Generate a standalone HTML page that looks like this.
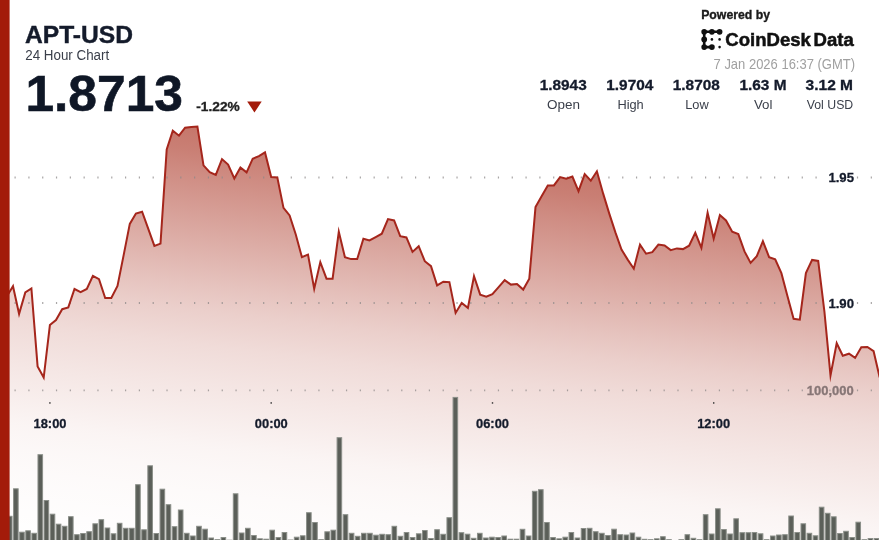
<!DOCTYPE html>
<html lang="en">
<head>
<meta charset="utf-8">
<title>APT-USD 24 Hour Chart</title>
<style>
html,body{margin:0;padding:0;background:#fff;}
body{width:879px;height:540px;overflow:hidden;position:relative;font-family:"Liberation Sans",sans-serif;}
svg{position:absolute;left:0;top:0;display:block;}
text{font-family:"Liberation Sans",sans-serif;}
.b{font-weight:bold;}
</style>
</head>
<body>
<svg width="879" height="540" viewBox="0 0 879 540">
<defs>
<linearGradient id="ag" gradientUnits="userSpaceOnUse" x1="575" y1="125" x2="517.63" y2="603.12">
<stop offset="0.0000" stop-color="#9f1a07" stop-opacity="0.66"/>
<stop offset="0.0309" stop-color="#9f1a07" stop-opacity="0.635"/>
<stop offset="0.0928" stop-color="#9f1a07" stop-opacity="0.6"/>
<stop offset="0.1443" stop-color="#9f1a07" stop-opacity="0.56"/>
<stop offset="0.1959" stop-color="#9f1a07" stop-opacity="0.5"/>
<stop offset="0.3093" stop-color="#9f1a07" stop-opacity="0.38"/>
<stop offset="0.4227" stop-color="#9f1a07" stop-opacity="0.26"/>
<stop offset="0.4742" stop-color="#9f1a07" stop-opacity="0.21"/>
<stop offset="0.5464" stop-color="#9f1a07" stop-opacity="0.155"/>
<stop offset="0.6289" stop-color="#9f1a07" stop-opacity="0.11"/>
<stop offset="0.6804" stop-color="#9f1a07" stop-opacity="0.084"/>
<stop offset="0.7526" stop-color="#9f1a07" stop-opacity="0.046"/>
<stop offset="0.8041" stop-color="#9f1a07" stop-opacity="0.031"/>
<stop offset="0.8557" stop-color="#9f1a07" stop-opacity="0.02"/>
<stop offset="1.0000" stop-color="#9f1a07" stop-opacity="0.0"/>
</linearGradient>
</defs>
<rect width="879" height="540" fill="#fff"/>
<path d="M0.7,292.4 L6.8,296.4 L13.0,286.2 L19.1,313.9 L25.3,292.4 L31.4,288.4 L37.6,366.4 L43.7,377.5 L49.9,325.1 L56.0,320.0 L62.2,309.2 L68.3,307.4 L74.5,289.0 L80.6,292.1 L86.8,289.0 L92.9,275.9 L99.0,279.1 L105.2,298.0 L111.3,297.9 L117.5,285.9 L123.6,255.4 L129.8,223.9 L135.9,213.6 L142.1,211.7 L148.2,228.7 L154.4,245.9 L160.5,243.6 L166.7,149.4 L172.8,130.7 L179.0,135.7 L185.1,127.7 L191.3,126.9 L197.4,126.5 L203.5,165.4 L209.7,172.1 L215.8,174.9 L222.0,159.1 L228.1,164.6 L234.3,178.4 L240.4,167.4 L246.6,172.4 L252.7,158.7 L258.9,156.2 L265.0,152.4 L271.2,177.1 L277.3,177.4 L283.5,207.9 L289.6,215.4 L295.7,234.2 L301.9,257.1 L308.0,254.6 L314.2,288.7 L320.3,262.1 L326.5,278.7 L332.6,278.7 L338.8,231.7 L344.9,257.1 L351.1,259.1 L357.2,259.1 L363.4,238.7 L369.5,240.4 L375.7,237.1 L381.8,233.7 L388.0,219.1 L394.1,220.4 L400.2,236.2 L406.4,237.4 L412.5,251.9 L418.7,246.2 L424.8,261.2 L431.0,266.2 L437.1,285.4 L443.3,281.7 L449.4,282.1 L455.6,312.9 L461.7,302.9 L467.9,307.9 L474.0,276.2 L480.2,294.6 L486.3,296.7 L492.4,294.1 L498.6,287.1 L504.7,280.1 L510.9,284.6 L517.0,284.1 L523.2,289.6 L529.3,278.7 L535.5,207.1 L541.6,196.2 L547.8,185.4 L553.9,185.4 L560.1,177.1 L566.2,178.7 L572.4,176.6 L578.5,191.2 L584.7,174.1 L590.8,180.7 L596.9,171.3 L603.1,193.4 L609.2,213.4 L615.4,232.4 L621.5,249.6 L627.7,259.6 L633.8,268.7 L640.0,244.6 L646.1,253.7 L652.3,252.1 L658.4,244.6 L664.6,245.4 L670.7,250.1 L676.9,248.4 L683.0,249.1 L689.1,245.7 L695.3,232.8 L701.4,247.9 L707.6,212.8 L713.7,238.6 L719.9,215.1 L726.0,220.4 L732.2,231.7 L738.3,234.1 L744.5,251.4 L750.6,262.9 L756.8,256.2 L762.9,241.2 L769.1,257.1 L775.2,259.4 L781.4,273.2 L787.5,296.2 L793.6,318.8 L799.8,319.7 L805.9,273.0 L812.1,259.9 L818.2,260.9 L824.4,311.4 L830.5,375.4 L836.7,343.2 L842.8,355.7 L849.0,353.7 L855.1,357.9 L861.3,347.3 L867.4,346.9 L873.6,351.2 L879.7,377.4 L879.7,540 L0.7,540 Z" fill="url(#ag)"/>
<g stroke="#8c8888" stroke-opacity="0.75" stroke-width="1.8" stroke-dasharray="1.2 12.61" fill="none">
<line x1="0.7" y1="177.5" x2="879" y2="177.5"/>
<line x1="0.7" y1="303" x2="879" y2="303"/>
<line x1="0.7" y1="390.3" x2="879" y2="390.3"/>
</g>
<path d="M0.7,292.4 L6.8,296.4 L13.0,286.2 L19.1,313.9 L25.3,292.4 L31.4,288.4 L37.6,366.4 L43.7,377.5 L49.9,325.1 L56.0,320.0 L62.2,309.2 L68.3,307.4 L74.5,289.0 L80.6,292.1 L86.8,289.0 L92.9,275.9 L99.0,279.1 L105.2,298.0 L111.3,297.9 L117.5,285.9 L123.6,255.4 L129.8,223.9 L135.9,213.6 L142.1,211.7 L148.2,228.7 L154.4,245.9 L160.5,243.6 L166.7,149.4 L172.8,130.7 L179.0,135.7 L185.1,127.7 L191.3,126.9 L197.4,126.5 L203.5,165.4 L209.7,172.1 L215.8,174.9 L222.0,159.1 L228.1,164.6 L234.3,178.4 L240.4,167.4 L246.6,172.4 L252.7,158.7 L258.9,156.2 L265.0,152.4 L271.2,177.1 L277.3,177.4 L283.5,207.9 L289.6,215.4 L295.7,234.2 L301.9,257.1 L308.0,254.6 L314.2,288.7 L320.3,262.1 L326.5,278.7 L332.6,278.7 L338.8,231.7 L344.9,257.1 L351.1,259.1 L357.2,259.1 L363.4,238.7 L369.5,240.4 L375.7,237.1 L381.8,233.7 L388.0,219.1 L394.1,220.4 L400.2,236.2 L406.4,237.4 L412.5,251.9 L418.7,246.2 L424.8,261.2 L431.0,266.2 L437.1,285.4 L443.3,281.7 L449.4,282.1 L455.6,312.9 L461.7,302.9 L467.9,307.9 L474.0,276.2 L480.2,294.6 L486.3,296.7 L492.4,294.1 L498.6,287.1 L504.7,280.1 L510.9,284.6 L517.0,284.1 L523.2,289.6 L529.3,278.7 L535.5,207.1 L541.6,196.2 L547.8,185.4 L553.9,185.4 L560.1,177.1 L566.2,178.7 L572.4,176.6 L578.5,191.2 L584.7,174.1 L590.8,180.7 L596.9,171.3 L603.1,193.4 L609.2,213.4 L615.4,232.4 L621.5,249.6 L627.7,259.6 L633.8,268.7 L640.0,244.6 L646.1,253.7 L652.3,252.1 L658.4,244.6 L664.6,245.4 L670.7,250.1 L676.9,248.4 L683.0,249.1 L689.1,245.7 L695.3,232.8 L701.4,247.9 L707.6,212.8 L713.7,238.6 L719.9,215.1 L726.0,220.4 L732.2,231.7 L738.3,234.1 L744.5,251.4 L750.6,262.9 L756.8,256.2 L762.9,241.2 L769.1,257.1 L775.2,259.4 L781.4,273.2 L787.5,296.2 L793.6,318.8 L799.8,319.7 L805.9,273.0 L812.1,259.9 L818.2,260.9 L824.4,311.4 L830.5,375.4 L836.7,343.2 L842.8,355.7 L849.0,353.7 L855.1,357.9 L861.3,347.3 L867.4,346.9 L873.6,351.2 L879.7,377.4" fill="none" stroke="#a5261c" stroke-width="2" stroke-linejoin="miter" stroke-miterlimit="10"/>
<g fill="#5b5f59" stroke="#8b8f89" stroke-width="1">
<rect x="1.35" y="530.5" width="4.60" height="11.0"/>
<rect x="7.45" y="516.3" width="4.60" height="25.2"/>
<rect x="13.56" y="488.8" width="4.60" height="52.7"/>
<rect x="19.66" y="532.2" width="4.60" height="9.3"/>
<rect x="25.77" y="530.8" width="4.60" height="10.7"/>
<rect x="31.87" y="533.3" width="4.60" height="8.2"/>
<rect x="37.98" y="454.7" width="4.60" height="86.8"/>
<rect x="44.08" y="500.5" width="4.60" height="41.0"/>
<rect x="50.18" y="514.2" width="4.60" height="27.3"/>
<rect x="56.29" y="524.2" width="4.60" height="17.3"/>
<rect x="62.39" y="526.3" width="4.60" height="15.2"/>
<rect x="68.50" y="516.7" width="4.60" height="24.8"/>
<rect x="74.60" y="534.7" width="4.60" height="6.8"/>
<rect x="80.70" y="533.5" width="4.60" height="8.0"/>
<rect x="86.81" y="531.7" width="4.60" height="9.8"/>
<rect x="92.91" y="523.8" width="4.60" height="17.7"/>
<rect x="99.02" y="519.7" width="4.60" height="21.8"/>
<rect x="105.12" y="528.0" width="4.60" height="13.5"/>
<rect x="111.22" y="533.8" width="4.60" height="7.7"/>
<rect x="117.33" y="523.3" width="4.60" height="18.2"/>
<rect x="123.43" y="528.3" width="4.60" height="13.2"/>
<rect x="129.54" y="528.3" width="4.60" height="13.2"/>
<rect x="135.64" y="484.7" width="4.60" height="56.8"/>
<rect x="141.75" y="529.8" width="4.60" height="11.7"/>
<rect x="147.85" y="465.8" width="4.60" height="75.7"/>
<rect x="153.95" y="533.5" width="4.60" height="8.0"/>
<rect x="160.06" y="489.2" width="4.60" height="52.3"/>
<rect x="166.16" y="504.7" width="4.60" height="36.8"/>
<rect x="172.27" y="526.7" width="4.60" height="14.8"/>
<rect x="178.37" y="510.0" width="4.60" height="31.5"/>
<rect x="184.47" y="533.3" width="4.60" height="8.2"/>
<rect x="190.58" y="536.0" width="4.60" height="5.5"/>
<rect x="196.68" y="526.3" width="4.60" height="15.2"/>
<rect x="202.79" y="529.2" width="4.60" height="12.3"/>
<rect x="208.89" y="538.0" width="4.60" height="3.5"/>
<rect x="215.00" y="539.7" width="4.60" height="1.8"/>
<rect x="221.10" y="537.5" width="4.60" height="4.0"/>
<rect x="227.20" y="540.2" width="4.60" height="1.3"/>
<rect x="233.31" y="493.8" width="4.60" height="47.7"/>
<rect x="239.41" y="533.0" width="4.60" height="8.5"/>
<rect x="245.52" y="528.3" width="4.60" height="13.2"/>
<rect x="251.62" y="535.5" width="4.60" height="6.0"/>
<rect x="257.73" y="538.8" width="4.60" height="2.7"/>
<rect x="263.83" y="539.2" width="4.60" height="2.3"/>
<rect x="269.93" y="530.2" width="4.60" height="11.3"/>
<rect x="276.04" y="537.5" width="4.60" height="4.0"/>
<rect x="282.14" y="532.5" width="4.60" height="9.0"/>
<rect x="288.25" y="540.0" width="4.60" height="1.5"/>
<rect x="294.35" y="537.2" width="4.60" height="4.3"/>
<rect x="300.45" y="535.8" width="4.60" height="5.7"/>
<rect x="306.56" y="512.7" width="4.60" height="28.8"/>
<rect x="312.66" y="522.5" width="4.60" height="19.0"/>
<rect x="318.77" y="539.7" width="4.60" height="1.8"/>
<rect x="324.87" y="531.8" width="4.60" height="9.7"/>
<rect x="330.98" y="530.2" width="4.60" height="11.3"/>
<rect x="337.08" y="437.7" width="4.60" height="103.8"/>
<rect x="343.18" y="514.7" width="4.60" height="26.8"/>
<rect x="349.29" y="533.3" width="4.60" height="8.2"/>
<rect x="355.39" y="536.3" width="4.60" height="5.2"/>
<rect x="361.50" y="533.3" width="4.60" height="8.2"/>
<rect x="367.60" y="533.3" width="4.60" height="8.2"/>
<rect x="373.70" y="535.2" width="4.60" height="6.3"/>
<rect x="379.81" y="534.3" width="4.60" height="7.2"/>
<rect x="385.91" y="534.7" width="4.60" height="6.8"/>
<rect x="392.02" y="526.3" width="4.60" height="15.2"/>
<rect x="398.12" y="536.3" width="4.60" height="5.2"/>
<rect x="404.23" y="532.5" width="4.60" height="9.0"/>
<rect x="410.33" y="537.5" width="4.60" height="4.0"/>
<rect x="416.43" y="533.8" width="4.60" height="7.7"/>
<rect x="422.54" y="530.5" width="4.60" height="11.0"/>
<rect x="428.64" y="538.5" width="4.60" height="3.0"/>
<rect x="434.75" y="529.7" width="4.60" height="11.8"/>
<rect x="440.85" y="534.3" width="4.60" height="7.2"/>
<rect x="446.95" y="517.7" width="4.60" height="23.8"/>
<rect x="453.06" y="397.4" width="4.60" height="144.1"/>
<rect x="459.16" y="532.7" width="4.60" height="8.8"/>
<rect x="465.27" y="534.2" width="4.60" height="7.3"/>
<rect x="471.37" y="538.3" width="4.60" height="3.2"/>
<rect x="477.48" y="533.3" width="4.60" height="8.2"/>
<rect x="483.58" y="538.0" width="4.60" height="3.5"/>
<rect x="489.68" y="537.2" width="4.60" height="4.3"/>
<rect x="495.79" y="537.5" width="4.60" height="4.0"/>
<rect x="501.89" y="536.0" width="4.60" height="5.5"/>
<rect x="508.00" y="539.2" width="4.60" height="2.3"/>
<rect x="514.10" y="539.2" width="4.60" height="2.3"/>
<rect x="520.20" y="529.3" width="4.60" height="12.2"/>
<rect x="526.31" y="536.0" width="4.60" height="5.5"/>
<rect x="532.41" y="491.3" width="4.60" height="50.2"/>
<rect x="538.52" y="489.7" width="4.60" height="51.8"/>
<rect x="544.62" y="522.5" width="4.60" height="19.0"/>
<rect x="550.73" y="537.5" width="4.60" height="4.0"/>
<rect x="556.83" y="538.8" width="4.60" height="2.7"/>
<rect x="562.93" y="537.2" width="4.60" height="4.3"/>
<rect x="569.04" y="532.5" width="4.60" height="9.0"/>
<rect x="575.14" y="538.0" width="4.60" height="3.5"/>
<rect x="581.25" y="528.5" width="4.60" height="13.0"/>
<rect x="587.35" y="528.3" width="4.60" height="13.2"/>
<rect x="593.45" y="531.7" width="4.60" height="9.8"/>
<rect x="599.56" y="533.3" width="4.60" height="8.2"/>
<rect x="605.66" y="535.5" width="4.60" height="6.0"/>
<rect x="611.77" y="529.2" width="4.60" height="12.3"/>
<rect x="617.87" y="534.7" width="4.60" height="6.8"/>
<rect x="623.98" y="535.0" width="4.60" height="6.5"/>
<rect x="630.08" y="533.0" width="4.60" height="8.5"/>
<rect x="636.18" y="537.2" width="4.60" height="4.3"/>
<rect x="642.29" y="539.3" width="4.60" height="2.2"/>
<rect x="648.39" y="539.7" width="4.60" height="1.8"/>
<rect x="654.50" y="538.8" width="4.60" height="2.7"/>
<rect x="660.60" y="536.7" width="4.60" height="4.8"/>
<rect x="666.70" y="539.7" width="4.60" height="1.8"/>
<rect x="678.91" y="539.7" width="4.60" height="1.8"/>
<rect x="685.02" y="534.7" width="4.60" height="6.8"/>
<rect x="691.12" y="538.3" width="4.60" height="3.2"/>
<rect x="697.23" y="539.7" width="4.60" height="1.8"/>
<rect x="703.33" y="514.7" width="4.60" height="26.8"/>
<rect x="709.43" y="534.0" width="4.60" height="7.5"/>
<rect x="715.54" y="508.8" width="4.60" height="32.7"/>
<rect x="721.64" y="529.5" width="4.60" height="12.0"/>
<rect x="727.75" y="534.0" width="4.60" height="7.5"/>
<rect x="733.85" y="518.8" width="4.60" height="22.7"/>
<rect x="739.95" y="532.7" width="4.60" height="8.8"/>
<rect x="746.06" y="532.7" width="4.60" height="8.8"/>
<rect x="752.16" y="532.5" width="4.60" height="9.0"/>
<rect x="758.27" y="533.8" width="4.60" height="7.7"/>
<rect x="764.37" y="539.7" width="4.60" height="1.8"/>
<rect x="770.48" y="536.0" width="4.60" height="5.5"/>
<rect x="776.58" y="535.0" width="4.60" height="6.5"/>
<rect x="782.68" y="534.7" width="4.60" height="6.8"/>
<rect x="788.79" y="516.0" width="4.60" height="25.5"/>
<rect x="794.89" y="532.5" width="4.60" height="9.0"/>
<rect x="801.00" y="523.8" width="4.60" height="17.7"/>
<rect x="807.10" y="533.3" width="4.60" height="8.2"/>
<rect x="813.20" y="535.8" width="4.60" height="5.7"/>
<rect x="819.31" y="507.2" width="4.60" height="34.3"/>
<rect x="825.41" y="513.3" width="4.60" height="28.2"/>
<rect x="831.52" y="516.8" width="4.60" height="24.7"/>
<rect x="837.62" y="533.5" width="4.60" height="8.0"/>
<rect x="843.73" y="531.3" width="4.60" height="10.2"/>
<rect x="849.83" y="537.5" width="4.60" height="4.0"/>
<rect x="855.93" y="522.2" width="4.60" height="19.3"/>
<rect x="862.04" y="539.7" width="4.60" height="1.8"/>
<rect x="868.14" y="538.5" width="4.60" height="3.0"/>
<rect x="874.25" y="538.5" width="4.60" height="3.0"/>
</g>
<g fill="#333">
<rect x="49.2" y="402.2" width="1.4" height="1.5"/>
<rect x="270.5" y="402.2" width="1.4" height="1.5"/>
<rect x="491.8" y="402.2" width="1.4" height="1.5"/>
<rect x="713.0" y="402.2" width="1.4" height="1.5"/>
</g>
<g class="b" font-size="13.3" fill="#141b2b" stroke="#141b2b" stroke-width="0.3" text-anchor="middle">
<text x="50" y="428.3" textLength="33" lengthAdjust="spacingAndGlyphs">18:00</text>
<text x="271.3" y="428.3" textLength="33" lengthAdjust="spacingAndGlyphs">00:00</text>
<text x="492.5" y="428.3" textLength="33" lengthAdjust="spacingAndGlyphs">06:00</text>
<text x="713.7" y="428.3" textLength="33" lengthAdjust="spacingAndGlyphs">12:00</text>
</g>
<rect x="826" y="170" width="30" height="15" fill="#fff"/>
<rect x="826" y="295.5" width="30" height="15" fill="#fff"/>
<g class="b" font-size="13.3" fill="#141b2b" stroke="#141b2b" stroke-width="0.3" text-anchor="middle">
<text x="841.2" y="182.1" textLength="25.6" lengthAdjust="spacingAndGlyphs">1.95</text>
<text x="841.2" y="307.6" textLength="25.6" lengthAdjust="spacingAndGlyphs">1.90</text>
</g>
<text class="b" font-size="13.3" fill="#877676" stroke="#877676" stroke-width="0.3" text-anchor="middle" x="830.2" y="394.9" textLength="47" lengthAdjust="spacingAndGlyphs">100,000</text>
<rect x="0" y="0" width="9.6" height="540" fill="#a31b0a"/>

<!-- header left -->
<text class="b" x="25" y="42.8" font-size="24" fill="#141b2b" stroke="#141b2b" stroke-width="0.4" textLength="108" lengthAdjust="spacingAndGlyphs">APT-USD</text>
<text x="25.2" y="59.5" font-size="13.8" fill="#3a3f4a" textLength="84" lengthAdjust="spacingAndGlyphs">24 Hour Chart</text>
<text class="b" x="25.4" y="110.6" font-size="50" fill="#0f1726" stroke="#0f1726" stroke-width="0.6" textLength="157.6" lengthAdjust="spacingAndGlyphs">1.8713</text>
<text class="b" x="196.3" y="110.6" font-size="12.3" fill="#222" stroke="#222" stroke-width="0.3" textLength="43.5" lengthAdjust="spacingAndGlyphs">-1.22%</text>
<path d="M247.2,101.4 L261.7,101.4 L254.45,112.5 Z" fill="#a31b0a"/>

<!-- header right -->
<text class="b" x="701.2" y="18.9" font-size="12.6" fill="#1a1a1a" stroke="#1a1a1a" stroke-width="0.35" textLength="68.8" lengthAdjust="spacingAndGlyphs">Powered by</text>
<g fill="#111" stroke="#111">
<path d="M719.6,31.8 H704.2 V47.1 H711.9" fill="none" stroke-width="2.6" stroke-linecap="round" stroke-linejoin="round"/>
<g stroke="none">
<circle cx="704.2" cy="31.8" r="2.85"/><circle cx="711.9" cy="31.8" r="2.85"/><circle cx="719.6" cy="31.8" r="2.85"/>
<circle cx="704.2" cy="39.4" r="2.85"/><circle cx="704.2" cy="47.1" r="2.85"/><circle cx="711.9" cy="47.1" r="2.85"/>
<circle cx="711.9" cy="39.4" r="1.3"/><circle cx="719.6" cy="39.4" r="1.3"/><circle cx="719.6" cy="47.1" r="1.3"/>
</g>
</g>
<text class="b" x="725.3" y="45.9" font-size="18.3" fill="#111" stroke="#111" stroke-width="0.5" textLength="85.6" lengthAdjust="spacingAndGlyphs">CoinDesk</text>
<text class="b" x="813.6" y="45.9" font-size="18.3" fill="#111" stroke="#111" stroke-width="0.5" textLength="40.2" lengthAdjust="spacingAndGlyphs">Data</text>
<text x="784.3" y="69.3" font-size="13.9" fill="#a0a0a0" text-anchor="middle" textLength="141.5" lengthAdjust="spacingAndGlyphs">7 Jan 2026 16:37 (GMT)</text>
<g class="b" font-size="14" fill="#141b2b" stroke="#141b2b" stroke-width="0.3" text-anchor="middle">
<text x="563.2" y="90.3" textLength="47" lengthAdjust="spacingAndGlyphs">1.8943</text>
<text x="629.8" y="90.3" textLength="47" lengthAdjust="spacingAndGlyphs">1.9704</text>
<text x="696.3" y="90.3" textLength="47" lengthAdjust="spacingAndGlyphs">1.8708</text>
<text x="763" y="90.3" textLength="47" lengthAdjust="spacingAndGlyphs">1.63 M</text>
<text x="829.3" y="90.3" textLength="47.5" lengthAdjust="spacingAndGlyphs">3.12 M</text>
</g>
<g font-size="13.2" fill="#3a3f4a" text-anchor="middle">
<text x="563.4" y="109.4" textLength="33" lengthAdjust="spacingAndGlyphs">Open</text>
<text x="630.6" y="109.4" textLength="26.3" lengthAdjust="spacingAndGlyphs">High</text>
<text x="697" y="109.4" textLength="23.5" lengthAdjust="spacingAndGlyphs">Low</text>
<text x="763.2" y="109.4" textLength="18.5" lengthAdjust="spacingAndGlyphs">Vol</text>
<text x="830" y="109.4" textLength="46.5" lengthAdjust="spacingAndGlyphs">Vol USD</text>
</g>
</svg>
</body>
</html>
